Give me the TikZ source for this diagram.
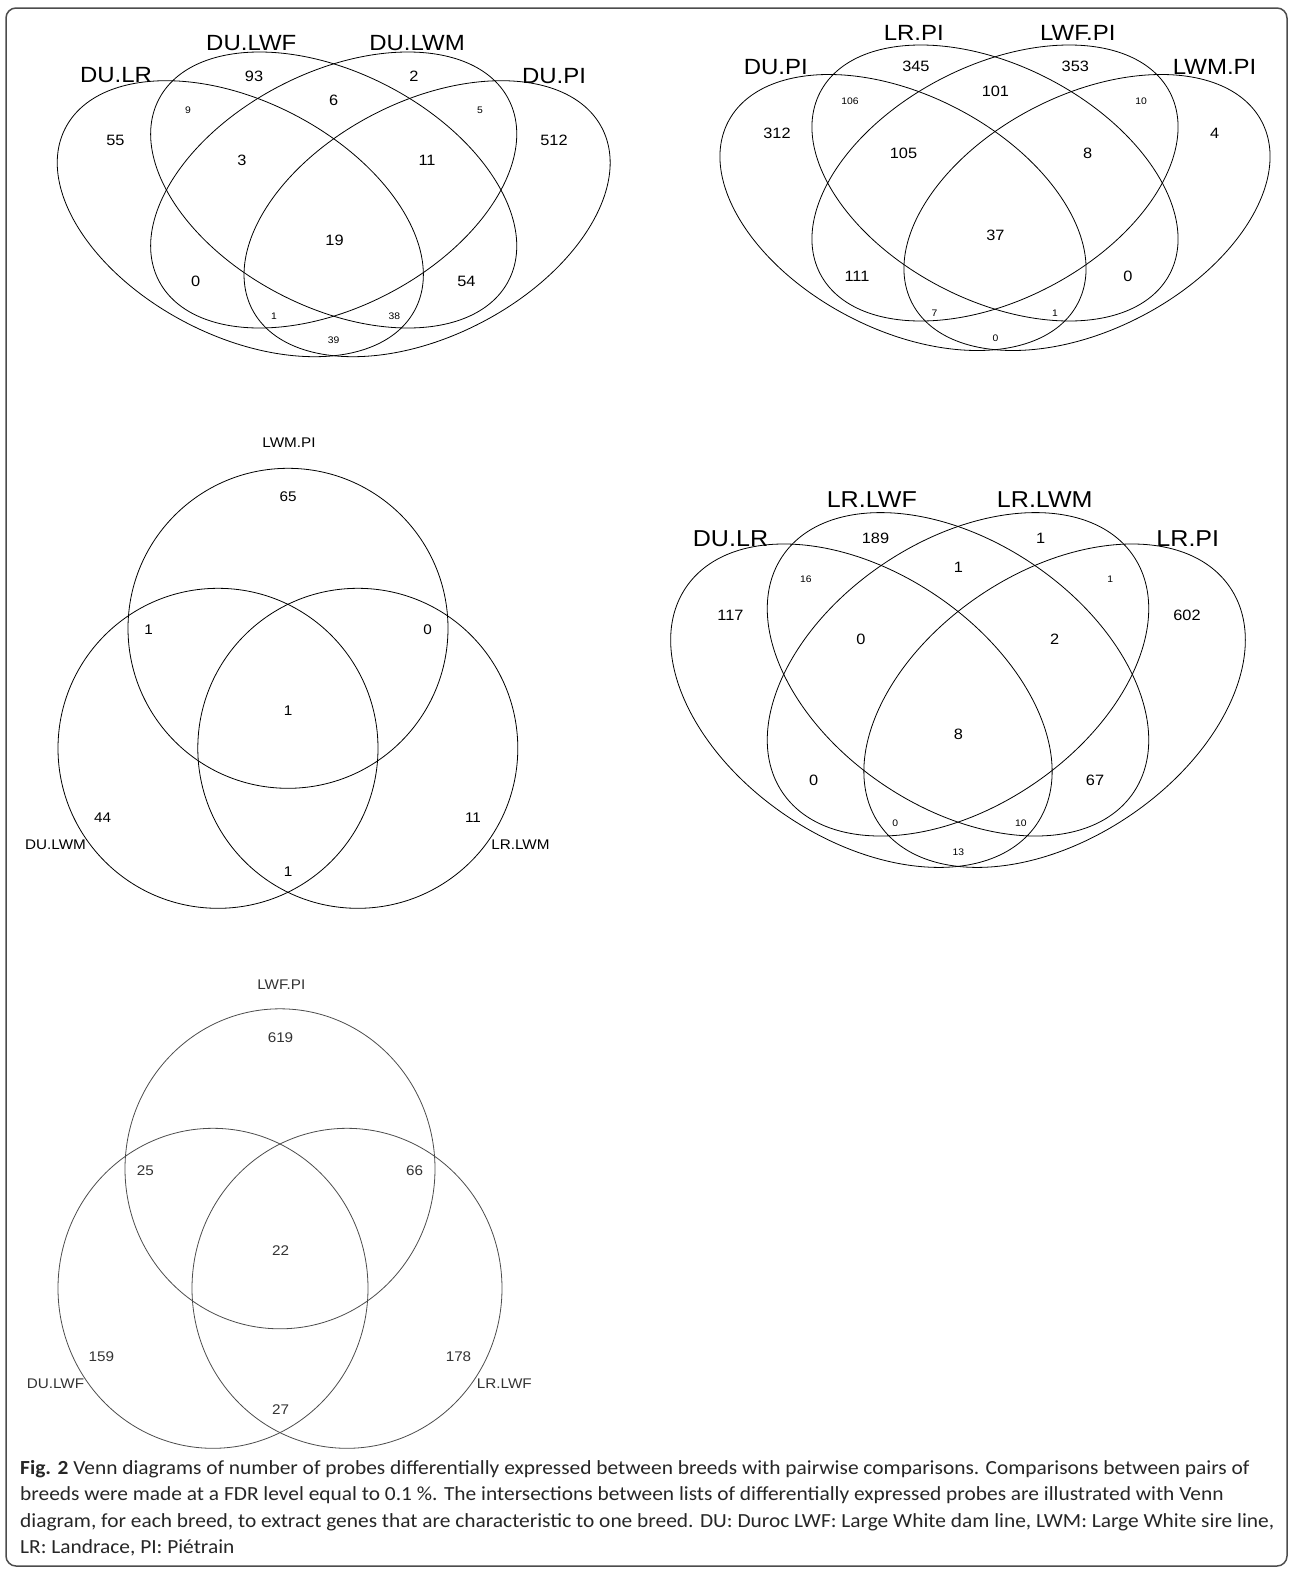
\documentclass[tikz,border=0pt]{standalone}
\usepackage{fontspec}
\usepackage{xcolor}
\usetikzlibrary{shapes.geometric}
\newfontfamily\vennfont[FakeStretch=1.09]{Liberation Sans}
\newfontfamily\capfont[FakeStretch=1.07]{Carlito}

\begin{document}
\begin{tikzpicture}[
  x=1pt, y=-1pt,
  set/.style={draw, ellipse, inner sep=0pt, line width=0.8pt},
  quadset/.style={set, minimum width=394pt, minimum height=234.4pt},
  quadsetb/.style={set, minimum width=423.2pt, minimum height=266.4pt},
  circset/.style={set, minimum width=320pt, minimum height=320pt},
  circsetb/.style={set, draw=black!70, minimum width=310pt, minimum height=320pt},
  cat/.style={inner sep=0pt, font=\vennfont\fontsize{22}{22}\selectfont},
  catb/.style={inner sep=0pt, font=\vennfont\fontsize{23}{23}\selectfont},
  num/.style={inner sep=0pt, font=\vennfont\fontsize{15}{15}\selectfont},
  tiny/.style={inner sep=0pt, font=\vennfont\fontsize{9.5}{9.5}\selectfont},
  lbl/.style={inner sep=0pt, font=\vennfont\fontsize{14}{14}\selectfont},
  capline/.style={inner sep=0pt, anchor=base west, text=black!85, font=\capfont\fontsize{20}{26}\selectfont}
]
\useasboundingbox (0,0) rectangle (1292,1572);
\draw[black!70, line width=1.5pt, rounded corners=10pt] (6,8) rectangle (1287,1566);

% DU comparisons
\node[quadset, rotate=-27.4] (a-dulr) at (240.3,218.7) {};
\node[quadset, rotate=-27.4] (a-dulwf) at (333.7,190) {};
\node[quadset, rotate=27.4] (a-dulwm) at (333.7,190) {};
\node[quadset, rotate=27.4] (a-dupi) at (427.1,218.7) {};
\node[cat] (a-l1) at (116,75.5) {DU.LR};
\node[cat] (a-l2) at (251.3,42.7) {DU.LWF};
\node[cat] (a-l3) at (417,42.7) {DU.LWM};
\node[cat] (a-l4) at (554,76) {DU.PI};
\node[num] (a-r1) at (254,76) {93};
\node[num] (a-r2) at (414,76) {2};
\node[num] (a-r3) at (333.7,100) {6};
\node[num] (a-r4) at (115.4,140) {55};
\node[num] (a-r5) at (554,140) {512};
\node[num] (a-r6) at (241.8,160) {3};
\node[num] (a-r7) at (427,160) {11};
\node[num] (a-r8) at (334.5,240) {19};
\node[num] (a-r9) at (195.7,281.7) {0};
\node[num] (a-r10) at (466.4,281.7) {54};
\node[tiny] (a-r11) at (188,110) {9};
\node[tiny] (a-r12) at (480,110) {5};
\node[tiny] (a-r13) at (274,316) {1};
\node[tiny] (a-r14) at (394.3,316) {38};
\node[tiny] (a-r15) at (333.7,340.7) {39};

% PI comparisons
\node[quadset, rotate=-27.4] (b-dupi) at (903,212.5) {};
\node[quadset, rotate=-27.4] (b-lrpi) at (995,183) {};
\node[quadset, rotate=27.4] (b-lwfpi) at (995,183) {};
\node[quadset, rotate=27.4] (b-lwmpi) at (1087,212.5) {};
\node[cat] (b-l1) at (775.8,66.7) {DU.PI};
\node[cat] (b-l2) at (913.8,33.3) {LR.PI};
\node[cat] (b-l3) at (1077.8,33.3) {LWF.PI};
\node[cat] (b-l4) at (1214.6,66.7) {LWM.PI};
\node[num] (b-r1) at (915.9,66.7) {345};
\node[num] (b-r2) at (1075.3,66.7) {353};
\node[num] (b-r3) at (995.4,91.7) {101};
\node[num] (b-r4) at (777,133.3) {312};
\node[num] (b-r5) at (1214.6,133.3) {4};
\node[num] (b-r6) at (903.5,153.3) {105};
\node[num] (b-r7) at (1087.7,153.3) {8};
\node[num] (b-r8) at (995.4,235) {37};
\node[num] (b-r9) at (857,276.7) {111};
\node[num] (b-r10) at (1128,276.7) {0};
\node[tiny] (b-r11) at (850,101.7) {106};
\node[tiny] (b-r12) at (1141.2,101.7) {10};
\node[tiny] (b-r13) at (934.4,313.3) {7};
\node[tiny] (b-r14) at (1055,313.3) {1};
\node[tiny] (b-r15) at (995.4,338.3) {0};

% LWM comparisons
\node[circset] (c-lwmpi) at (288,628.3) {};
\node[circset] (c-dulwm) at (218,748.3) {};
\node[circset] (c-lrlwm) at (357.8,748.3) {};
\node[lbl] (c-l1) at (289,443) {LWM.PI};
\node[lbl] (c-l2) at (55.5,845) {DU.LWM};
\node[lbl] (c-l3) at (520.5,845) {LR.LWM};
\node[lbl] (c-r1) at (288,497) {65};
\node[lbl] (c-r2) at (148.5,630) {1};
\node[lbl] (c-r3) at (427.5,630) {0};
\node[lbl] (c-r4) at (288,711) {1};
\node[lbl] (c-r5) at (102.6,818) {44};
\node[lbl] (c-r6) at (473,818) {11};
\node[lbl] (c-r7) at (288,871.7) {1};

% LR comparisons
\node[quadsetb, rotate=-33.9] (d-dulr) at (861.4,705.7) {};
\node[quadsetb, rotate=-33.9] (d-lrlwf) at (958,674.3) {};
\node[quadsetb, rotate=33.9] (d-lrlwm) at (958,674.3) {};
\node[quadsetb, rotate=33.9] (d-lrpi) at (1054.6,705.7) {};
\node[catb] (d-l1) at (730.5,538.3) {DU.LR};
\node[catb] (d-l2) at (871.8,499.3) {LR.LWF};
\node[catb] (d-l3) at (1044.8,499.3) {LR.LWM};
\node[catb] (d-l4) at (1187.8,538.3) {LR.PI};
\node[num] (d-r1) at (875.5,538.3) {189};
\node[num] (d-r2) at (1040.7,538.3) {1};
\node[num] (d-r3) at (958.3,567.3) {1};
\node[num] (d-r4) at (730.5,615) {117};
\node[num] (d-r5) at (1187,615) {602};
\node[num] (d-r6) at (861,639.3) {0};
\node[num] (d-r7) at (1054.7,639.3) {2};
\node[num] (d-r8) at (958.3,734) {8};
\node[num] (d-r9) at (813.7,780.7) {0};
\node[num] (d-r10) at (1095,780.7) {67};
\node[tiny] (d-r11) at (805.9,579.3) {16};
\node[tiny] (d-r12) at (1110.3,579.3) {1};
\node[tiny] (d-r13) at (895.3,823.3) {0};
\node[tiny] (d-r14) at (1020.9,823.3) {10};
\node[tiny] (d-r15) at (958.3,852.7) {13};

% LWF comparisons
\node[circsetb] (e-lwfpi) at (280,1168.8) {};
\node[circsetb] (e-dulwf) at (213,1288.3) {};
\node[circsetb] (e-lrlwf) at (347,1288.3) {};
\node[lbl, text=black!80] (e-l1) at (281.3,985) {LWF.PI};
\node[lbl, text=black!80] (e-l2) at (55.5,1383.3) {DU.LWF};
\node[lbl, text=black!80] (e-l3) at (504.4,1383.3) {LR.LWF};
\node[lbl, text=black!80] (e-r1) at (280.5,1037.3) {619};
\node[lbl, text=black!80] (e-r2) at (145.4,1170.7) {25};
\node[lbl, text=black!80] (e-r3) at (414.5,1170.7) {66};
\node[lbl, text=black!80] (e-r4) at (280.5,1251) {22};
\node[lbl, text=black!80] (e-r5) at (101.4,1356.7) {159};
\node[lbl, text=black!80] (e-r6) at (458.5,1356.7) {178};
\node[lbl, text=black!80] (e-r7) at (280.5,1410) {27};

% caption
\node[capline] (cap1) at (20,1474) {\textbf{Fig. 2} Venn diagrams of number of probes differentially expressed between breeds with pairwise comparisons. Comparisons between pairs of};
\node[capline] (cap2) at (20,1500.5) {breeds were made at a FDR level equal to 0.1 \%. The intersections between lists of differentially expressed probes are illustrated with Venn};
\node[capline] (cap3) at (20,1527) {diagram, for each breed, to extract genes that are characteristic to one breed. DU: Duroc LWF: Large White dam line, LWM: Large White sire line,};
\node[capline] (cap4) at (20,1553) {LR: Landrace, PI: Piétrain};
\end{tikzpicture}
\end{document}
